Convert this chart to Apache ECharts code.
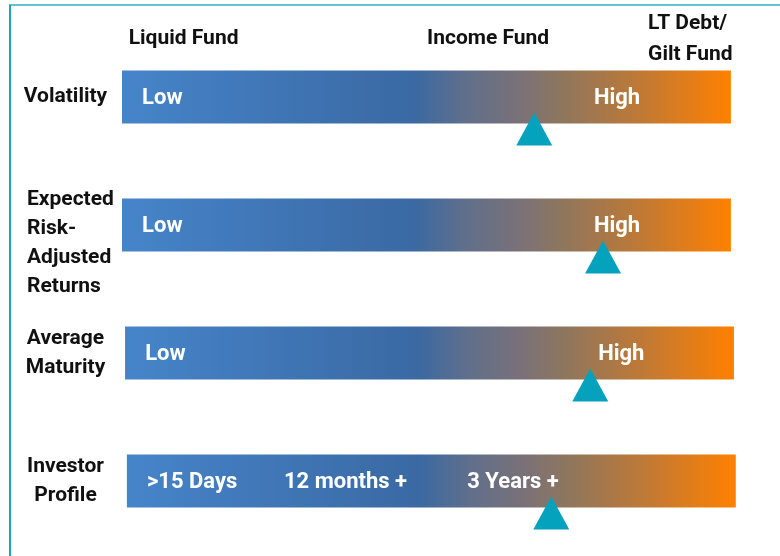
<!DOCTYPE html>
<html>
<head>
	<meta charset="utf-8">
	<script src="https://cdn.jsdelivr.net/npm/echarts@6/dist/echarts.min.js"></script>
	<title>Debt fund profile</title>
</head>
<body>

<style>
	html, body {
		margin: 0;
		padding: 0;
		background: #fff;
	}
	#main {
		width: 780px;
		height: 556px;
	}
</style>

<div id="main"></div>

<script type="text/javascript">
    // rows, top to bottom
    var rowLabels = ['Volatility', 'Expected\nRisk-\nAdjusted\nReturns', 'Average\nMaturity', 'Investor\nProfile'];
    var rowAlign = ['c', 'l', 'c', 'c'];

    // where each bar starts and how long it is (0-100 scale)
    var barStart = [0, 0, 0.5, 0.8];
    var barLength = [100, 100, 100, 100];

    // triangle marker on each bar
    var markerPos = [67.7, 79.0, 76.9, 70.5];

    // text written inside the bars
    var scaleText = [
        ['Low', 'High'],
        ['Low', 'High'],
        ['Low', 'High'],
        ['>15 Days', '12 months +', '3 Years +']
    ];
    var scaleTextPos = [
        [3.3, 77.5],
        [3.3, 77.5],
        [3.8, 78.2],
        [4.1, 26.6, 56.7]
    ];

    // fund types across the top
    var fundNames = ['Liquid Fund', 'Income Fund', 'LT Debt/\nGilt Fund'];
    var fundPos = [1.1, 50.1, 86.4];

    var FONT = "Roboto, 'DejaVu Sans Condensed', sans-serif";

    var myChart = echarts.init(document.getElementById('main'));

    var barGradient = new echarts.graphic.LinearGradient(0, 0, 1, 0, [
        { offset: 0, color: '#4684ca' },
        { offset: 0.48, color: '#3a69a3' },
        { offset: 0.56, color: '#5f6f8c' },
        { offset: 0.65, color: '#797179' },
        { offset: 0.72, color: '#8d765f' },
        { offset: 0.85, color: '#bf7936' },
        { offset: 1, color: '#ff8000' }
    ]);

    var textData = [];
    scaleText.forEach(function (list, r) {
        list.forEach(function (t, i) {
            textData.push({ value: [scaleTextPos[r][i], r], name: t });
        });
    });

    var markerData = markerPos.map(function (v, r) { return [v, r]; });
    var fundData = fundNames.map(function (n, i) { return { value: [fundPos[i], 0], name: n }; });

    var option = {
        animation: false,
        grid: { left: 122, right: 43, top: 33, bottom: 11 },
        xAxis: {
            type: 'value',
            min: 0,
            max: 101,
            show: false
        },
        yAxis: {
            type: 'category',
            inverse: true,
            data: rowLabels,
            axisLine: { show: false },
            axisTick: { show: false },
            axisLabel: {
                margin: 95,
                align: 'left',
                formatter: function (val, idx) {
                    var lines = val.split('\n');
                    var tag = rowAlign[idx];
                    var out = lines.map(function (s) { return '{' + tag + '|' + s + '}'; });
                    // the 4-line label sits a bit lower than its bar
                    if (lines.length > 2) out.unshift('{s| }');
                    return out.join('\n');
                },
                rich: {
                    c: { width: 77, align: 'center', fontSize: 21, fontWeight: 'bold', fontFamily: FONT, color: '#111', lineHeight: 29 },
                    l: { width: 77, align: 'left', fontSize: 21, fontWeight: 'bold', fontFamily: FONT, color: '#111', lineHeight: 29 },
                    s: { fontSize: 10, lineHeight: 37 }
                }
            }
        },
        graphic: [
            { type: 'line', shape: { x1: 9, y1: 5, x2: 780, y2: 5 }, style: { stroke: '#62c4d2', lineWidth: 2 } },
            { type: 'line', shape: { x1: 10, y1: 5, x2: 10, y2: 556 }, style: { stroke: '#1ca4c0', lineWidth: 2 } }
        ],
        series: [
            {
                type: 'bar',
                stack: 'bar',
                barWidth: 53,
                silent: true,
                itemStyle: { color: 'transparent' },
                data: barStart
            },
            {
                type: 'bar',
                stack: 'bar',
                barWidth: 53,
                itemStyle: { color: barGradient },
                data: barLength
            },
            {
                type: 'scatter',
                symbol: 'triangle',
                symbolSize: [36, 33],
                symbolOffset: [0, 32],
                itemStyle: { color: '#04a2bd', opacity: 1 },
                clip: false,
                data: markerData,
                z: 5
            },
            {
                type: 'scatter',
                symbolSize: 0,
                clip: false,
                itemStyle: { opacity: 1 },
                label: {
                    show: true,
                    position: 'right',
                    distance: 0,
                    offset: [0, 1],
                    formatter: '{b}',
                    color: '#fff',
                    fontSize: 22,
                    fontWeight: 'bold',
                    fontFamily: FONT
                },
                data: textData,
                z: 6
            },
            {
                type: 'scatter',
                symbolSize: 0,
                clip: false,
                itemStyle: { opacity: 1 },
                label: {
                    show: true,
                    position: 'right',
                    distance: 0,
                    offset: [0, -58],
                    formatter: '{b}',
                    color: '#111',
                    fontSize: 21,
                    lineHeight: 31,
                    fontWeight: 'bold',
                    fontFamily: FONT
                },
                data: fundData
            }
        ]
    };

    myChart.setOption(option);
</script>
</body>
</html>
